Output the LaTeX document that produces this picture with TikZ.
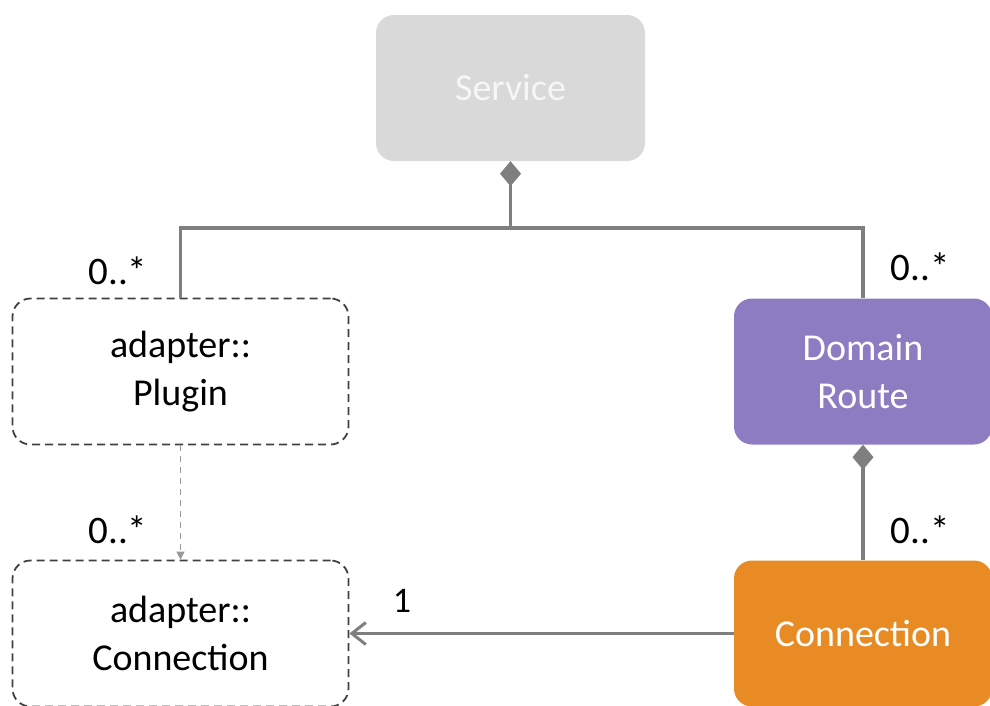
\documentclass[tikz,border=0pt]{standalone}
\usepackage{fontspec}
\setmainfont{Carlito}
\usetikzlibrary{arrows.meta, positioning}
\definecolor{svcGray}{HTML}{D9D9D9}
\definecolor{svcText}{HTML}{F6F6F6}
\definecolor{lineGray}{HTML}{7F7F7F}
\definecolor{dashGray}{HTML}{404040}
\definecolor{routePurple}{HTML}{8E7CC3}
\definecolor{connOrange}{HTML}{E98B25}

\begin{document}
\begin{tikzpicture}[x=1pt, y=-1pt,
    box/.style={rounded corners=18pt, minimum height=146pt, align=center,
                font=\fontsize{38}{48}\selectfont, inner sep=0pt},
    extbox/.style={box, draw=dashGray, dashed, line width=1.8pt,
                   dash pattern=on 8pt off 5pt, minimum width=336pt},
    assoc/.style={draw=lineGray, line width=3.5pt},
    comp/.style={assoc, {Diamond[length=25pt, width=21pt]}-},
    mult/.style={font=\fontsize{39}{44}\selectfont}]
    \useasboundingbox (0,0) rectangle (990,705);

    \node[box, fill=svcGray, text=svcText, minimum width=269pt] (svc) at (510.5,88) {Service};
    \node[extbox] (plug) at (180.5,371.5) {adapter::\\Plugin};
    \node[box, fill=routePurple, text=white, minimum width=258pt] (droute) at (863,371.5) {Domain\\Route};
    \node[extbox] (aconn) at (180.5,633.5) {adapter::\\Connection};
    \node[box, fill=connOrange, text=white, minimum width=258pt] (conn) at (863,633.5) {Connection};

    \coordinate (jn) at (510.5,228);

    % composition: service owns plugins and routes
    \draw[comp] (svc.south) -- (jn);
    \draw[assoc] (plug.north) |- (jn) -| (droute.north);
    \draw[comp] (droute.south) -- (conn.north);

    % plugin creates connections
    \draw[lineGray!80, line width=1.2pt, dash pattern=on 6pt off 5pt,
          -{Triangle[length=8pt, width=8pt]}] (plug.south) -- (aconn.north);

    % route connection uses adapter connection
    \draw[assoc, -{Straight Barb[length=14pt, width=22pt, line width=3pt]}] (conn.west) -- (aconn.east);

    \node[mult] (m1) at (118,271) {0..*};
    \node[mult] (m2) at (920,267) {0..*};
    \node[mult] (m3) at (118,530) {0..*};
    \node[mult] (m4) at (920,530) {0..*};
    \node[mult, font=\fontsize{36}{40}\selectfont] (m5) at (402,601) {1};
\end{tikzpicture}
\end{document}
